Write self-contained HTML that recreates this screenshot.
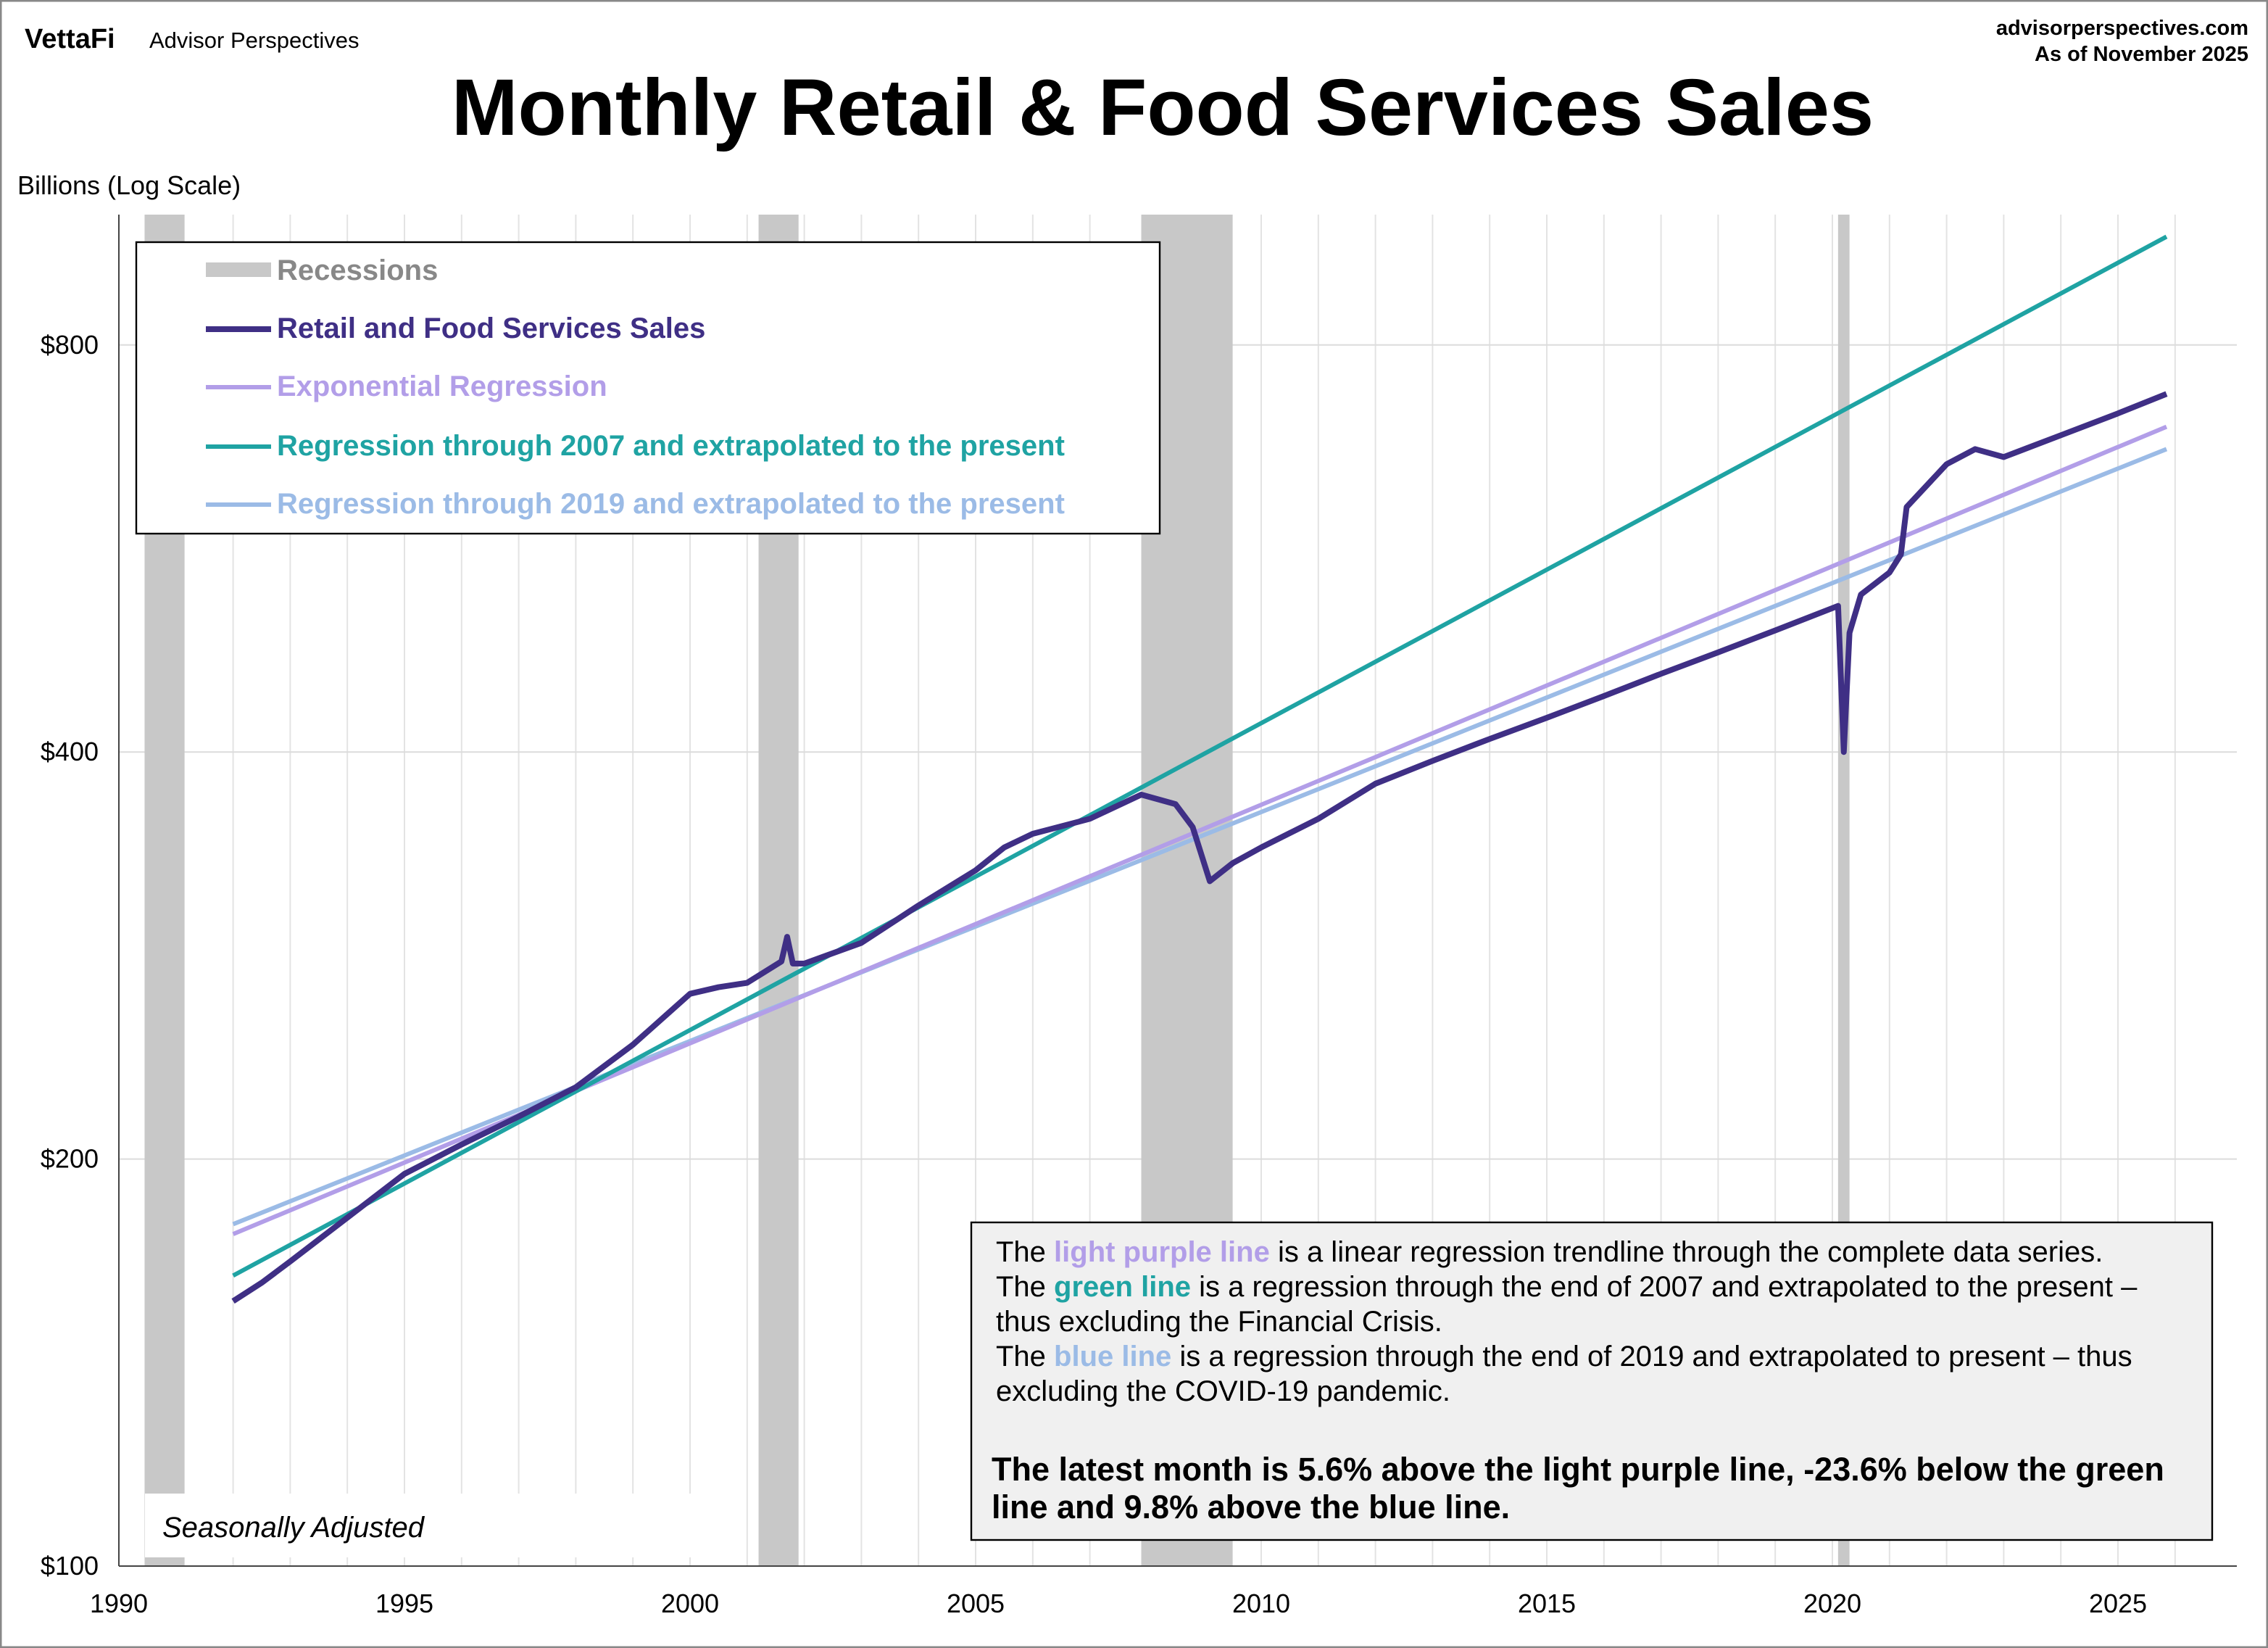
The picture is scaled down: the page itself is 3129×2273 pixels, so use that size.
<!DOCTYPE html>
<html><head><meta charset="utf-8"><style>
html,body{margin:0;padding:0;background:#fff;}
svg{display:block;font-family:"Liberation Sans",Arial,sans-serif;}
</style></head><body>
<svg id="chart" width="3129" height="2273" viewBox="0 0 1564.5 1136.5" xmlns="http://www.w3.org/2000/svg">
<rect x="0.5" y="0.5" width="1563.5" height="1135.5" fill="#fff" stroke="#888" stroke-width="1.5"/>
<text x="17" y="33" font-size="19" font-weight="bold">VettaFi</text>
<text x="103" y="33" font-size="15.5">Advisor Perspectives</text>
<text x="1551" y="24" font-size="14.5" font-weight="bold" text-anchor="end">advisorperspectives.com</text>
<text x="1551" y="42" font-size="14.5" font-weight="bold" text-anchor="end">As of November 2025</text>
<text x="802" y="93" font-size="55" font-weight="bold" text-anchor="middle">Monthly Retail &amp; Food Services Sales</text>
<text x="12" y="134" font-size="18">Billions (Log Scale)</text>
<g id="grid"></g>
<g id="rec"></g>
<g id="lines"></g>
<line x1="82" y1="148" x2="82" y2="1080" stroke="#444" stroke-width="1"/>
<line x1="82" y1="1080" x2="1543" y2="1080" stroke="#444" stroke-width="1"/>
<g id="ticks"></g>
<g>
<rect x="94" y="167" width="706" height="201" fill="#fff" stroke="#000" stroke-width="1.2"/>
<rect x="142" y="181" width="45" height="10" fill="#c8c8c8"/>
<text x="191" y="193" font-size="20" font-weight="bold" fill="#888">Recessions</text>
<line x1="142" y1="227" x2="187" y2="227" stroke="#3f2f85" stroke-width="4"/>
<text x="191" y="233" font-size="20" font-weight="bold" fill="#3f2f85">Retail and Food Services Sales</text>
<line x1="142" y1="267" x2="187" y2="267" stroke="#b29ee8" stroke-width="3"/>
<text x="191" y="273" font-size="20" font-weight="bold" fill="#b29ee8">Exponential Regression</text>
<line x1="142" y1="308" x2="187" y2="308" stroke="#1fa3a3" stroke-width="3"/>
<text x="191" y="314" font-size="20" font-weight="bold" fill="#1fa3a3">Regression through 2007 and extrapolated to the present</text>
<line x1="142" y1="348" x2="187" y2="348" stroke="#9bbbe6" stroke-width="3"/>
<text x="191" y="354" font-size="20" font-weight="bold" fill="#9bbbe6">Regression through 2019 and extrapolated to the present</text>
</g>
<rect x="100" y="1030" width="380" height="44" fill="#fff"/>
<text x="112" y="1060" font-size="20" font-style="italic">Seasonally Adjusted</text>
<g>
<rect x="670" y="843" width="856" height="219" fill="#f0f0f0" stroke="#000" stroke-width="1.2"/>
<text font-size="20">
<tspan x="687" y="870">The <tspan font-weight="bold" fill="#b29ee8">light purple line</tspan> is a linear regression trendline  through the complete data series.</tspan>
<tspan x="687" y="894">The <tspan font-weight="bold" fill="#1fa3a3">green line</tspan> is a regression through the end of 2007 and extrapolated to the present  –</tspan>
<tspan x="687" y="918">thus excluding the Financial Crisis.</tspan>
<tspan x="687" y="942">The <tspan font-weight="bold" fill="#9bbbe6">blue line</tspan> is a regression through the end of 2019 and extrapolated to present  – thus</tspan>
<tspan x="687" y="966">excluding the COVID-19 pandemic.</tspan>
</text>
<text font-size="22.5" font-weight="bold">
<tspan x="684" y="1021">The latest month is 5.6% above the light purple line, -23.6% below the green</tspan>
<tspan x="684" y="1047">line and 9.8% above the blue line.</tspan>
</text>
</g>
</svg>
<script>
const years=[1992,1992.5,1993,1994,1995,1996,1997,1998,1999,2000,2000.5,2001,2001.6,2001.7,2001.8,2002,2003,2004,2005,2005.5,2006,2007,2007.9,2008.5,2008.8,2009.1,2009.5,2010,2011,2012,2013,2014,2015,2016,2017,2018,2019,2020.1,2020.2,2020.3,2020.5,2021,2021.2,2021.3,2022,2022.5,2023,2024,2025,2025.85];
const sales=[157,162,168,181,195,205,215,226,243,265,268,270,280,292,279,279,289,308,327,340,348,357,372,366,352,321,331,340,357,379,394,409,424,440,457,474,492,513,400,490,523,543,560,607,653,670,661,686,712,736];
const regYears=[1992,2025.85];
const expReg=[176,696];
const reg2007=[164,962];
const reg2019=[179,670];
const recStart=[1990.45,2001.2,2007.9,2020.1];
const recEnd=[1991.15,2001.9,2009.5,2020.3];
const yTicks=[100,200,400,800];
const xTicks=[1990,1995,2000,2005,2010,2015,2020,2025];
const NS="http://www.w3.org/2000/svg";
const X=y=>82+(y-1990)*39.4;
const Y=v=>1080-Math.log2(v/100)*280.7;
function mk(tag,attrs,parent){const e=document.createElementNS(NS,tag);for(const k in attrs)e.setAttribute(k,attrs[k]);document.getElementById(parent).appendChild(e);return e;}
for(let yr=1991;yr<=2026;yr++){const l=mk('line',{x1:X(yr),x2:X(yr),y1:148,y2:1080,stroke:'#e3e3e3','stroke-width':1},'grid');

}
yTicks.forEach(v=>{const l=mk('line',{x1:82,x2:1543,y1:Y(v),y2:Y(v),stroke:'#dcdcdc','stroke-width':1},'grid');


const t=mk('text',{x:68,y:Y(v)+6,'font-size':18,'text-anchor':'end'},'ticks');t.textContent='$'+v;

});
xTicks.forEach(yr=>{const t=mk('text',{x:X(yr),y:1112,'font-size':18,'text-anchor':'middle'},'ticks');t.textContent=yr;

});
recStart.forEach((s,i)=>{const r=mk('rect',{x:X(s),y:148,width:X(recEnd[i])-X(s),height:932,fill:'#c8c8c8'},'rec');

});
function line(xs,vs,color,w,name){const p=mk('polyline',{points:xs.map((x,i)=>X(x)+','+Y(vs[i])).join(' '),fill:'none',stroke:color,'stroke-width':w,'stroke-linejoin':'round'},'lines');

}
line(regYears,reg2019,'#9bbbe6',3,'regression-2019-line');
line(regYears,expReg,'#b29ee8',3,'exponential-regression-line');
line(regYears,reg2007,'#1fa3a3',3,'regression-2007-line');
line(years,sales,'#3f2f85',4,'retail-sales-line');
</script>
</body></html>
